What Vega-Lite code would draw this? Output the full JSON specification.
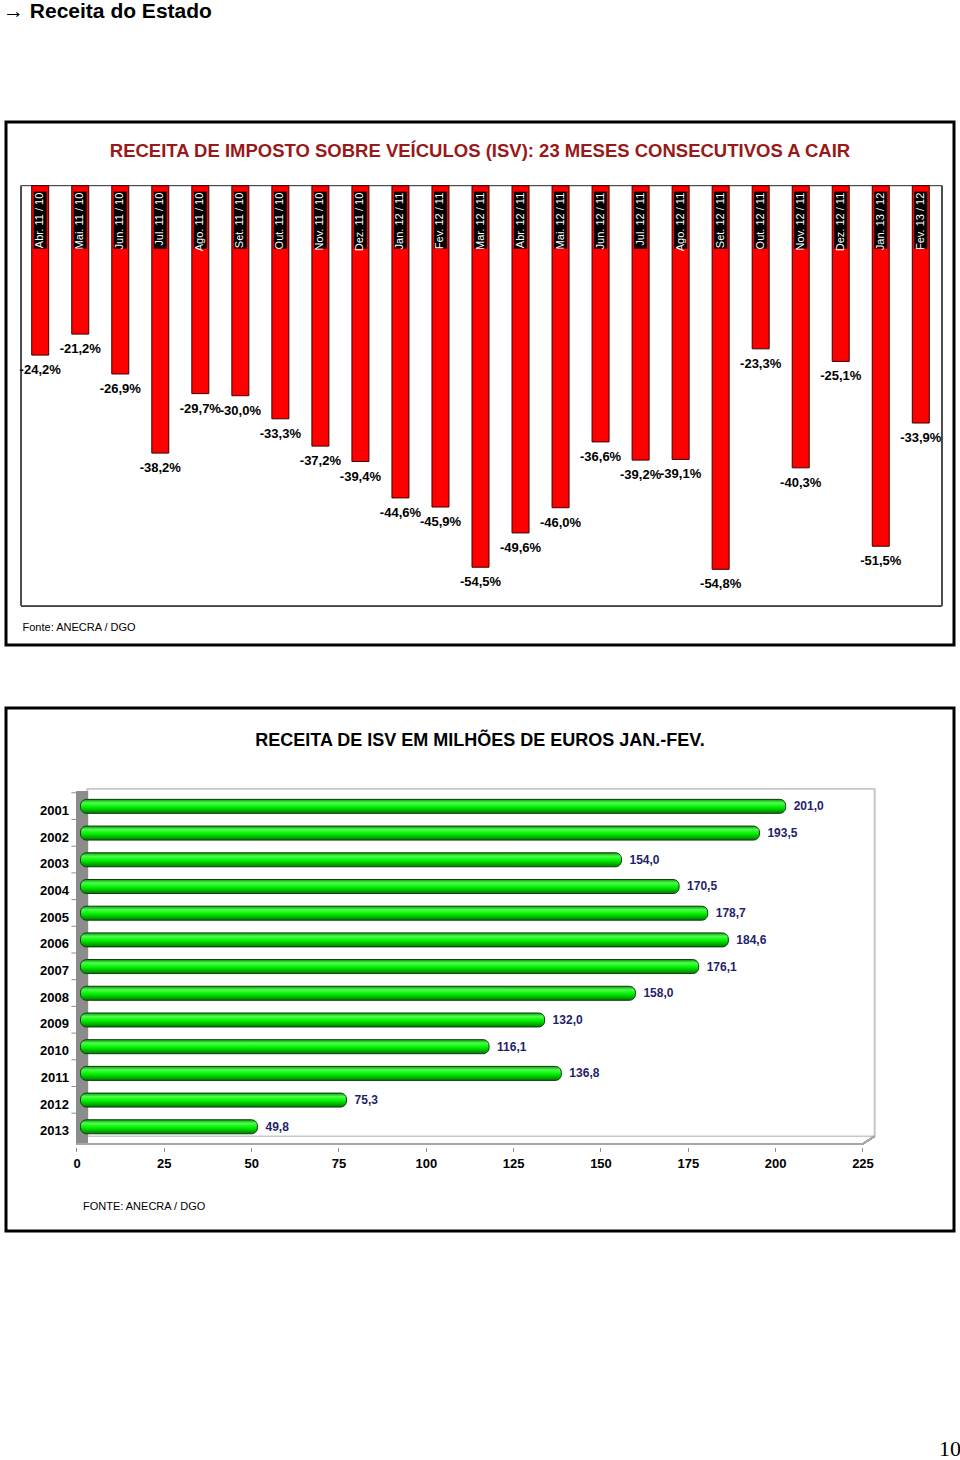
{
  "$schema": "https://vega.github.io/schema/vega-lite/v6.json",
  "padding": {"left": 3, "top": 0, "right": 0, "bottom": 0},
  "background": "white",
  "config": {
    "font": "Liberation Sans",
    "locale": {"number": {"decimal": ",", "thousands": ".", "grouping": [3], "currency": ["", " €"], "minus": "-"}},
    "view": {"stroke": "black", "strokeWidth": 3}
  },
  "title": {"text": "→ Receita do Estado", "anchor": "start", "fontSize": 21, "fontWeight": "bold", "color": "black", "dx": -3, "offset": 99, "frame": "group"},
  "spacing": 59,
  "vconcat": [
    {
      "width": 948,
      "height": 523,
      "title": {"text": "RECEITA DE IMPOSTO SOBRE VEÍCULOS (ISV): 23 MESES CONSECUTIVOS A CAIR", "color": "#991919", "fontSize": 18.5, "fontWeight": "bold", "offset": -38, "anchor": "middle"},
      "data": {"values": [
        {"n": 1, "mes": "Abr. 11 / 10", "var": -0.242},
        {"n": 2, "mes": "Mai. 11 / 10", "var": -0.212},
        {"n": 3, "mes": "Jun. 11 / 10", "var": -0.269},
        {"n": 4, "mes": "Jul. 11 / 10", "var": -0.382},
        {"n": 5, "mes": "Ago. 11 / 10", "var": -0.297},
        {"n": 6, "mes": "Set. 11 / 10", "var": -0.300},
        {"n": 7, "mes": "Out. 11 / 10", "var": -0.333},
        {"n": 8, "mes": "Nov. 11 / 10", "var": -0.372},
        {"n": 9, "mes": "Dez. 11 / 10", "var": -0.394},
        {"n": 10, "mes": "Jan. 12 / 11", "var": -0.446},
        {"n": 11, "mes": "Fev. 12 / 11", "var": -0.459},
        {"n": 12, "mes": "Mar. 12 / 11", "var": -0.545},
        {"n": 13, "mes": "Abr. 12 / 11", "var": -0.496},
        {"n": 14, "mes": "Mai. 12 / 11", "var": -0.460},
        {"n": 15, "mes": "Jun. 12 / 11", "var": -0.366},
        {"n": 16, "mes": "Jul. 12 / 11", "var": -0.392},
        {"n": 17, "mes": "Ago. 12 / 11", "var": -0.391},
        {"n": 18, "mes": "Set. 12 / 11", "var": -0.548},
        {"n": 19, "mes": "Out. 12 / 11", "var": -0.233},
        {"n": 20, "mes": "Nov. 12 / 11", "var": -0.403},
        {"n": 21, "mes": "Dez. 12 / 11", "var": -0.251},
        {"n": 22, "mes": "Jan. 13 / 12", "var": -0.515},
        {"n": 23, "mes": "Fev. 13 / 12", "var": -0.339}
      ]},
      "encoding": {
        "x": {"field": "n", "type": "quantitative",
          "scale": {"domain": [0.27, 23.705], "nice": false, "zero": false},
          "axis": {"labels": false, "ticks": false, "domain": false, "grid": false, "title": "Fonte: ANECRA / DGO", "titleX": 16, "titleY": -18, "titleAlign": "left", "titleBaseline": "middle", "titleFontSize": 11, "titleFontWeight": "normal", "titleColor": "black"}},
        "y": {"field": "var", "type": "quantitative", "scale": {"domain": [-0.6561, 0.091], "nice": false, "zero": false}, "axis": null}
      },
      "layer": [
        {"mark": {"type": "rect", "fill": "white", "stroke": "#404040", "strokeWidth": 1}, "encoding": {"x": {"datum": 0.53}, "x2": {"datum": 23.52}, "y": {"datum": 0}, "y2": {"datum": -0.6}}},
        {"mark": {"type": "bar", "width": 17, "fill": "#ff0000", "stroke": "#3a0000", "strokeWidth": 1}, "encoding": {"y2": {"datum": 0}}},
        {"mark": {"type": "bar", "width": 13, "fill": "black"}, "encoding": {"y": {"datum": -0.0085}, "y2": {"datum": -0.09}}},
        {"mark": {"type": "text", "angle": 270, "align": "right", "baseline": "middle", "dx": -7, "color": "white", "fontSize": 11}, "encoding": {"y": {"datum": 0}, "text": {"field": "mes"}}},
        {"mark": {"type": "text", "baseline": "middle", "dy": 15, "fontSize": 13, "fontWeight": "bold", "color": "black"}, "encoding": {"text": {"field": "var", "format": ".1%"}}}
      ]
    },
    {
      "width": 948,
      "height": 523,
      "title": {"text": "RECEITA DE ISV EM MILHÕES DE EUROS JAN.-FEV.", "color": "black", "fontSize": 18, "fontWeight": "bold", "offset": -42, "anchor": "middle"},
      "data": {"values": [
        {"ano": 2001, "valor": 201.0},
        {"ano": 2002, "valor": 193.5},
        {"ano": 2003, "valor": 154.0},
        {"ano": 2004, "valor": 170.5},
        {"ano": 2005, "valor": 178.7},
        {"ano": 2006, "valor": 184.6},
        {"ano": 2007, "valor": 176.1},
        {"ano": 2008, "valor": 158.0},
        {"ano": 2009, "valor": 132.0},
        {"ano": 2010, "valor": 116.1},
        {"ano": 2011, "valor": 136.8},
        {"ano": 2012, "valor": 75.3},
        {"ano": 2013, "valor": 49.8}
      ]},
      "encoding": {
        "y": {"field": "ano", "type": "quantitative",
          "scale": {"domain": [1997.503, 2016.716], "nice": false, "zero": false, "reverse": true},
          "axis": {"title": null, "values": [2001, 2002, 2003, 2004, 2005, 2006, 2007, 2008, 2009, 2010, 2011, 2012, 2013], "format": "d", "offset": -70.5, "ticks": false, "domain": false, "grid": false, "labelOffset": 4, "labelFontSize": 13, "labelFontWeight": "bold", "labelColor": "black", "labelPadding": 8, "labelFlush": false, "labelOverlap": false}},
        "x": {"field": "valor", "type": "quantitative",
          "scale": {"domain": [-20.18, 251.2], "nice": false, "zero": false},
          "axis": {"values": [0, 25, 50, 75, 100, 125, 150, 175, 200, 225], "format": "d", "offset": -83.5, "domain": false, "grid": false, "labelFlush": false, "tickColor": "#909090", "tickSize": 4, "labelPadding": 6, "labelFontSize": 13, "labelFontWeight": "bold", "labelColor": "black",
            "title": "FONTE: ANECRA / DGO", "titleX": 76.5, "titleY": 59, "titleAlign": "left", "titleBaseline": "middle", "titleFontSize": 11, "titleFontWeight": "normal", "titleColor": "black"}}
      },
      "layer": [
        {"mark": {"type": "rect", "fill": "white", "stroke": "#c8c8c8", "strokeWidth": 1.5}, "encoding": {"x": {"datum": 3.2}, "x2": {"datum": 228.4}, "y": {"datum": 2000.35}, "y2": {"datum": 2013.355}}},
        {"mark": {"type": "rect", "fill": "#8c8c8c"}, "encoding": {"x": {"datum": 0}, "x2": {"datum": 3.2}, "y": {"datum": 2000.45}, "y2": {"datum": 2013.65}}},
        {"mark": {"type": "rule", "color": "#a8a8a8", "strokeWidth": 1.5}, "encoding": {"x": {"datum": 0}, "x2": {"datum": 225}, "y": {"datum": 2013.65}}},
        {"mark": {"type": "rule", "color": "#a8a8a8", "strokeWidth": 1.5}, "encoding": {"x": {"datum": 225}, "x2": {"datum": 228.4}, "y": {"datum": 2013.65}, "y2": {"datum": 2013.355}}},
        {"mark": {"type": "rule", "color": "#909090", "strokeWidth": 1, "yOffset": -13.6}, "encoding": {"x": {"datum": -1.45}, "x2": {"datum": 0}}},
        {"mark": {"type": "bar", "height": 14, "xOffset": 7, "x2Offset": 4, "cornerRadius": 6, "stroke": "#0b3d0b", "strokeWidth": 1,
          "fill": {"gradient": "linear", "x1": 0, "y1": 0, "x2": 0, "y2": 1, "stops": [{"offset": 0, "color": "#0c9a0c"}, {"offset": 0.25, "color": "#4dff4d"}, {"offset": 0.55, "color": "#00f000"}, {"offset": 1, "color": "#007a00"}]}},
          "encoding": {"x2": {"datum": 0}}},
        {"mark": {"type": "text", "align": "left", "baseline": "middle", "dx": 15, "fontSize": 12, "fontWeight": "bold", "color": "#1f1f6b"}, "encoding": {"text": {"field": "valor", "format": ".1f"}}}
      ]
    },
    {
      "width": 948,
      "height": 120,
      "view": {"stroke": null},
      "data": {"values": [{}]},
      "mark": {"type": "point", "opacity": 0},
      "title": {"text": "10", "orient": "bottom", "anchor": "end", "font": "Liberation Serif", "fontSize": 22, "fontWeight": "normal", "color": "black", "dx": 7, "offset": 27}
    }
  ]
}
